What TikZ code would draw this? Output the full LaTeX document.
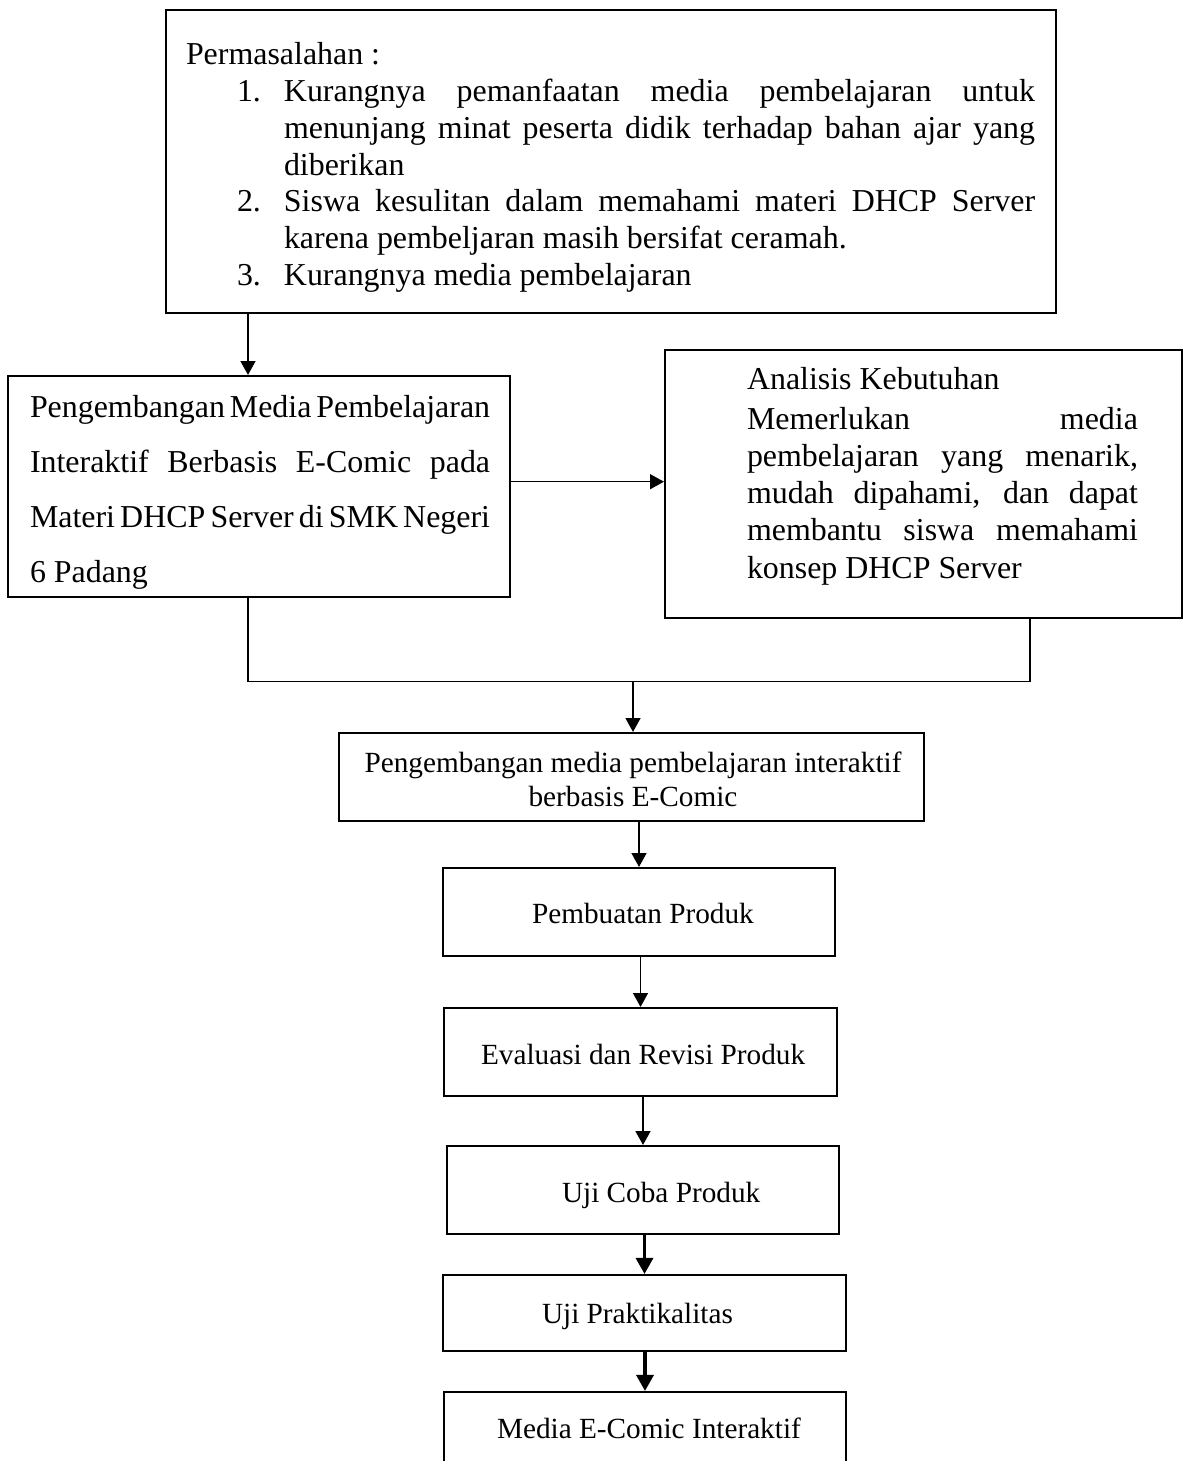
\documentclass[tikz,border=0pt]{standalone}
\usepackage{fontspec}
\setmainfont{Liberation Serif}
\usetikzlibrary{arrows.meta,fit,calc}
\newcommand\jline[2]{\hbox to #1{\spaceskip=0.25em plus 1fil minus 0.15em\relax #2}}
\newcommand\fontA{\fontsize{12}{13.8}\selectfont}
\newcommand\fontB{\fontsize{11}{12.65}\selectfont}
\begin{document}
\begin{tikzpicture}[x=0.376pt,y=-0.376pt,
  flowbox/.style={draw, line width=0.8pt, inner sep=0pt},
  txt/.style={inner sep=0pt, outer sep=0pt, font=\fontA},
  txtsmall/.style={inner sep=0pt, outer sep=0pt, font=\fontB},
  conn/.style={draw, line width=0.55pt},
  arr/.style={draw, line width=0.55pt, -{Triangle[length=5.2pt,width=5.6pt]}},
  arrthick/.style={draw, line width=1.2pt, -{Triangle[length=6pt,width=6.4pt]}}]
\useasboundingbox (0,0) rectangle (1184,1461);
\clip (0,0) rectangle (1184,1461);

% boxes
\node[flowbox, fit={(166,10)(1056,313)}] (prob) {};
\node[flowbox, fit={(8,376)(510,597)}] (dev) {};
\node[flowbox, fit={(665,350)(1182,618)}] (need) {};
\node[flowbox, fit={(339,733)(924,821)}] (b4) {};
\node[flowbox, fit={(443,868)(835,956)}] (b5) {};
\node[flowbox, fit={(444,1008)(837,1096)}] (b6) {};
\node[flowbox, fit={(447,1146)(839,1234)}] (b7) {};
\node[flowbox, fit={(443,1275)(846,1351)}] (b8) {};
\node[flowbox, fit={(444,1392)(846,1490)}] (b9) {};

% texts
\node[txt, anchor=base west] (tprob) at (186,65) {\vtop{\baselineskip=13.8pt\lineskiplimit=-\maxdimen\lineskip=0pt
  \hbox{Permasalahan :}
  \hbox{\kern19.18pt\makebox[17.67pt][l]{1.}\jline{282.4pt}{Kurangnya pemanfaatan media pembelajaran untuk}}
  \hbox{\kern36.85pt\jline{282.4pt}{menunjang minat peserta didik terhadap bahan ajar yang}}
  \hbox{\kern36.85pt diberikan}
  \hbox{\kern19.18pt\makebox[17.67pt][l]{2.}\jline{282.4pt}{Siswa kesulitan dalam memahami materi DHCP Server}}
  \hbox{\kern36.85pt karena pembeljaran masih bersifat ceramah.}
  \hbox{\kern19.18pt\makebox[17.67pt][l]{3.}Kurangnya media pembelajaran}}};

\node[txt, anchor=base west] (tdev) at (30,418) {\vtop{\baselineskip=20.57pt\lineskiplimit=-\maxdimen\lineskip=0pt
  \jline{173pt}{Pengembangan Media Pembelajaran}
  \jline{173pt}{Interaktif Berbasis E-Comic pada}
  \jline{173pt}{Materi DHCP Server di SMK Negeri}
  \hbox{6 Padang}}};

\node[txt, anchor=base west] (tneed) at (747,390) {\vtop{\baselineskip=14pt\lineskiplimit=-\maxdimen\lineskip=0pt
  \hbox{Analisis Kebutuhan}\kern0.7pt
  \jline{147pt}{Memerlukan media}
  \jline{147pt}{pembelajaran yang menarik,}
  \jline{147pt}{mudah dipahami, dan dapat}
  \jline{147pt}{membantu siswa memahami}
  \hbox{konsep DHCP Server}}};

\node[txtsmall, anchor=base] (t4) at (633,772) {\vtop{\hsize=220pt\baselineskip=12.8pt\lineskiplimit=-\maxdimen\lineskip=0pt
  \hbox to\hsize{\hfil Pengembangan media pembelajaran interaktif\hfil}
  \hbox to\hsize{\hfil berbasis E-Comic\hfil}}};

\node[txtsmall, anchor=base west] (t5) at (532,923) {Pembuatan Produk};
\node[txtsmall, anchor=base west] (t6) at (481,1064) {Evaluasi dan Revisi Produk};
\node[txtsmall, anchor=base west] (t7) at (562,1202) {Uji Coba Produk};
\node[txtsmall, anchor=base west] (t8) at (542,1323) {Uji Praktikalitas};
\node[txtsmall, anchor=base west] (t9) at (497,1438) {Media E-Comic Interaktif};

% helper coordinates
\coordinate (xa) at (248,0);
\coordinate (ya) at (0,481.7);
\coordinate (xb) at (1030,0);
\coordinate (yj) at (0,681.5);
\coordinate (xc) at (633,0);

% connectors
\draw[arr] (xa |- prob.south) -- (xa |- dev.north);
\draw[arr] (dev.east |- ya) -- (need.west |- ya);
\draw[conn] (xa |- dev.south) -- (xa |- yj) -- (xb |- yj) -- (xb |- need.south);
\draw[arr] (xc |- yj) -- (xc |- b4.north);
\draw[arr] (b5.north |- b4.south) -- (b5.north);
\draw[arr] (b6.north |- b5.south) -- (b6.north);
\draw[arr] (b7.north |- b6.south) -- (b7.north);
\draw[arrthick] (b8.north |- b7.south) -- (b8.north);
\draw[arrthick] (b9.north |- b8.south) -- (b9.north);
\end{tikzpicture}
\end{document}
